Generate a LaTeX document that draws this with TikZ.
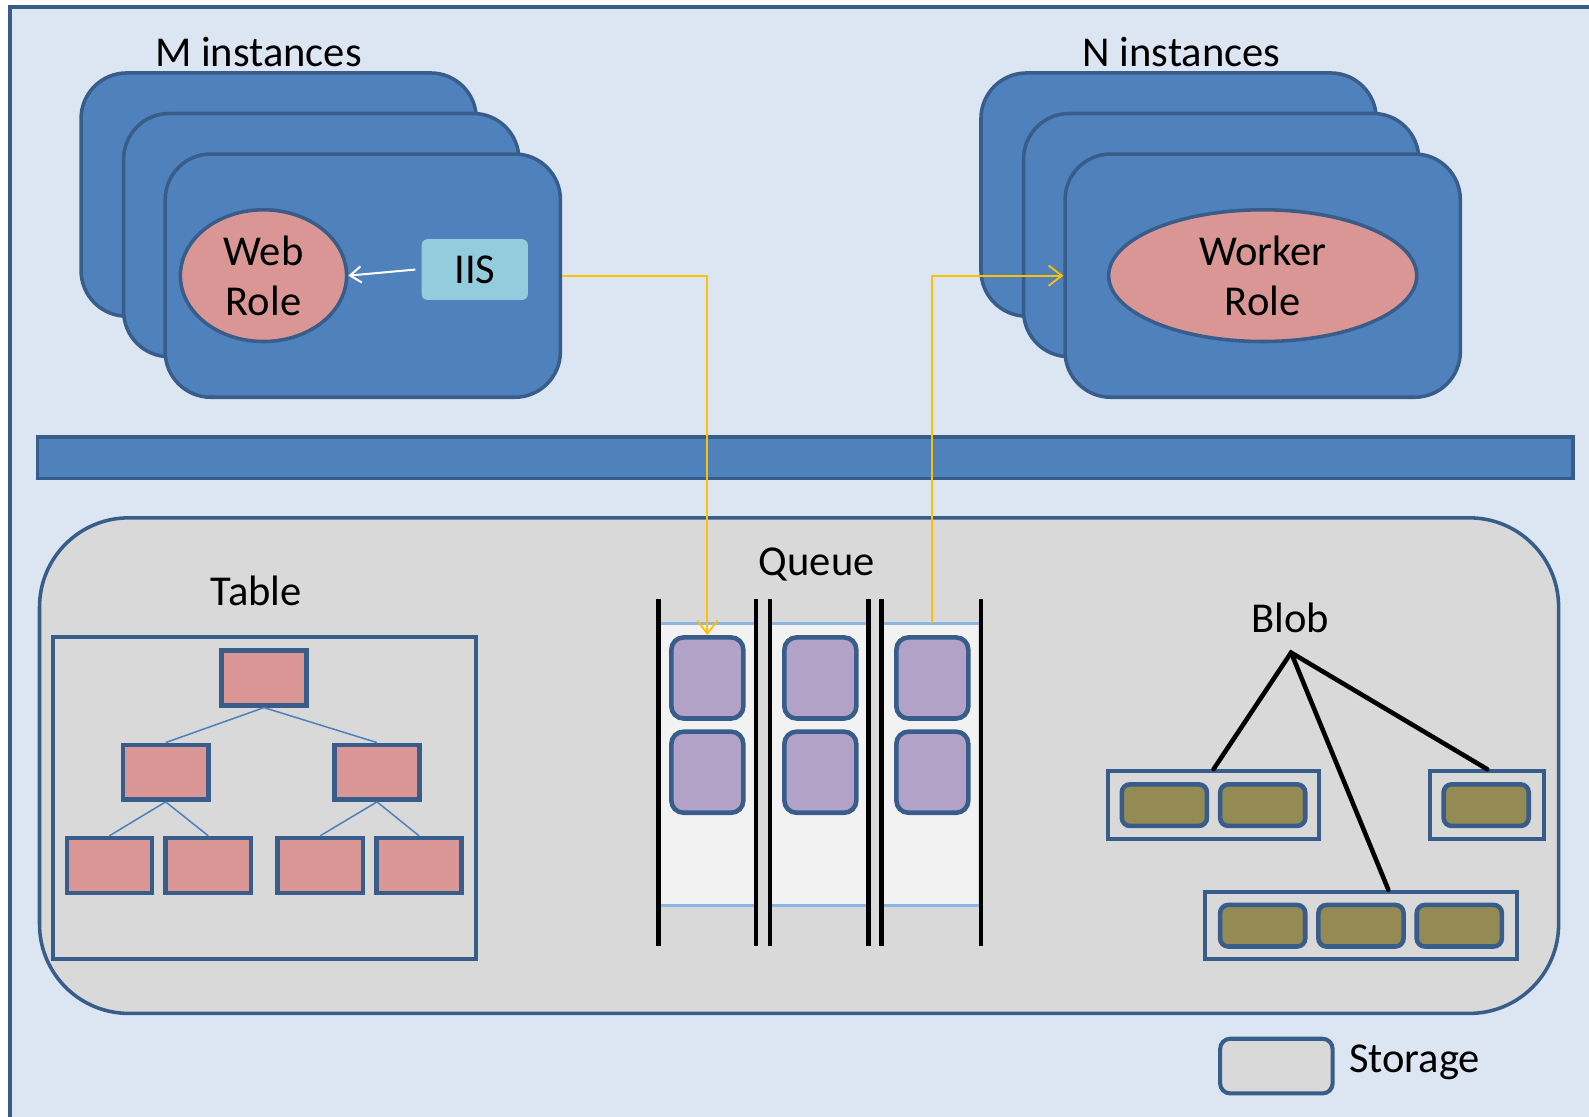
\documentclass[tikz,border=0pt]{standalone}
\usepackage{fontspec}
\setmainfont{Carlito}
\usetikzlibrary{arrows.meta,shapes.geometric}

\definecolor{panelbg}{HTML}{DCE6F2}
\definecolor{edgeblue}{HTML}{385D8A}
\definecolor{boxblue}{HTML}{4F81BD}
\definecolor{rolepink}{HTML}{D99694}
\definecolor{iisblue}{HTML}{93CDDD}
\definecolor{storegrey}{HTML}{D9D9D9}
\definecolor{slotwhite}{HTML}{F2F2F2}
\definecolor{slotline}{HTML}{8EB4E3}
\definecolor{msgpurple}{HTML}{B3A2C7}
\definecolor{blobolive}{HTML}{948A54}
\definecolor{flowyellow}{HTML}{FFC000}

\begin{document}
\begin{tikzpicture}[x=1pt,y=-1pt,
  every node/.style={font=\fontsize{42}{49}\selectfont, inner sep=0pt},
  instbox/.style={draw=edgeblue, fill=boxblue, line width=3.5pt, rounded corners=45pt,
    minimum width=390pt, minimum height=240pt},
  rolebox/.style={ellipse, draw=edgeblue, fill=rolepink, line width=3.5pt, align=center},
  treebox/.style={draw=edgeblue, fill=rolepink, line width=4.5pt,
    minimum width=84pt, minimum height=54pt},
  treeedge/.style={draw=boxblue, line width=1.5pt},
  msgbox/.style={draw=edgeblue, fill=msgpurple, line width=4.5pt, rounded corners=12pt,
    minimum width=71pt, minimum height=80pt},
  slot/.style={fill=slotwhite, minimum width=93pt, minimum height=278pt},
  slotedge/.style={draw=slotline, line width=3pt},
  rail/.style={draw=black, line width=4.5pt},
  blobset/.style={draw=edgeblue, line width=4pt, minimum height=67pt},
  blobitem/.style={draw=edgeblue, fill=blobolive, line width=4.5pt, rounded corners=8pt,
    minimum width=84pt, minimum height=41pt},
  blobedge/.style={draw=black, line width=4.5pt},
  flow/.style={draw=flowyellow, line width=1.8pt, -{Straight Barb[length=13pt,width=20pt,line width=1.8pt]}},
  callarrow/.style={draw=white, line width=2pt, -{Straight Barb[length=11pt,width=16pt,line width=2pt]}}
]
\useasboundingbox (0,0) rectangle (1568,1102);
\clip (0,0) rectangle (1568,1102);
\fill[white] (0,0) rectangle (1568,1102);

% outer panel, running off the right and bottom edges
\draw[draw=edgeblue, fill=panelbg, line width=4.5pt] (10,7) rectangle (1620,1160);

% web role instances
\node[instbox] (w1) at (275,192) {};
\node[instbox] (w2) at (317,232) {};
\node[instbox] (wf) at (358,272) {};
\node (mlabel) at (255,51) {M instances};
\node[rolebox, minimum width=164pt, minimum height=130pt] (web) at (260,272) {Web\\Role};
\node[fill=iisblue, rounded corners=6pt, minimum width=105pt, minimum height=60pt] (iis) at (468.5,266) {IIS};
\draw[callarrow] ([xshift=-6pt]iis.west) -- (web.east);

% worker role instances
\node[instbox] (n1) at (1163,192) {};
\node[instbox] (n2) at (1205,232) {};
\node[instbox] (nf) at (1246,272) {};
\node (nlabel) at (1166,51) {N instances};
\node[rolebox, minimum width=304pt, minimum height=130pt] (worker) at (1246,272) {Worker\\Role};

% fabric bar
\node[draw=edgeblue, fill=boxblue, line width=3.5pt, minimum width=1515pt, minimum height=41pt] (bar) at (794.5,451.5) {};

% storage area
\node[draw=edgeblue, fill=storegrey, line width=3.5pt, rounded corners=88pt,
  minimum width=1499pt, minimum height=489pt] (storage) at (788.5,755.5) {};

% table
\node (tlabel) at (253,583) {Table};
\node[draw=edgeblue, line width=4pt, minimum width=418pt, minimum height=317pt] (table) at (261,787.5) {};
\node[treebox] (t0) at (260.5,669) {};
\node[treebox] (t1) at (163.5,762) {};
\node[treebox] (t2) at (372,762) {};
\node[treebox] (t3) at (108,854) {};
\node[treebox] (t4) at (205.5,854) {};
\node[treebox] (t5) at (316,854) {};
\node[treebox] (t6) at (413.5,854) {};
\draw[treeedge] (t0.south) -- (t1.north);
\draw[treeedge] (t0.south) -- (t2.north);
\draw[treeedge] (t1.south) -- (t3.north);
\draw[treeedge] (t1.south) -- (t4.north);
\draw[treeedge] (t2.south) -- (t5.north);
\draw[treeedge] (t2.south) -- (t6.north);

% queue
\node (qlabel) at (806,557) {Queue};
\node[slot] (s1) at (698,754) {};
\node[slot] (s2) at (808.5,754) {};
\node[slot] (s3) at (919,754) {};
\foreach \s in {s1,s2,s3} {
  \draw[slotedge] (\s.north west) -- (\s.north east);
  \draw[slotedge] (\s.south west) -- (\s.south east);
}
\foreach \x in {650,746,760,857,870,968}
  \draw[rail] (\x,591) -- (\x,933);
\node[msgbox] (q11) at (698,669) {};
\node[msgbox] (q12) at (698,762) {};
\node[msgbox] (q21) at (809.5,669) {};
\node[msgbox] (q22) at (809.5,762) {};
\node[msgbox] (q31) at (920,669) {};
\node[msgbox] (q32) at (920,762) {};
\coordinate (deq) at (q31.north |- s3.north);

% blob
\node (blabel) at (1273,610) {Blob};
\coordinate (broot) at (1274,644);
\node[blobset, minimum width=209pt] (ba) at (1197.5,794.5) {};
\node[blobset, minimum width=113pt] (bb) at (1467.5,794.5) {};
\node[blobset, minimum width=308pt, minimum height=66pt] (bc) at (1343,913) {};
\node[blobitem] (ba1) at (1149,794.5) {};
\node[blobitem] (ba2) at (1246,794.5) {};
\node[blobitem] (bb1) at (1466.5,794.5) {};
\node[blobitem] (bc1) at (1246,913.5) {};
\node[blobitem] (bc2) at (1343,913.5) {};
\node[blobitem] (bc3) at (1440,913.5) {};
\draw[blobedge, line cap=round] (ba.north) -- (broot) -- (bb.north);
\draw[blobedge, line cap=round] (broot) -- ([xshift=27pt]bc.north);

% legend
\node[draw=edgeblue, fill=storegrey, line width=4pt, rounded corners=10pt,
  minimum width=111pt, minimum height=54pt] (legbox) at (1259.5,1052) {};
\node[anchor=west] (legtext) at (1331,1048) {Storage};

% message flow between roles and the queue
\draw[flow] (wf.east) -| (q11.north);
\draw[flow] (deq) |- (nf.west);
\end{tikzpicture}
\end{document}
